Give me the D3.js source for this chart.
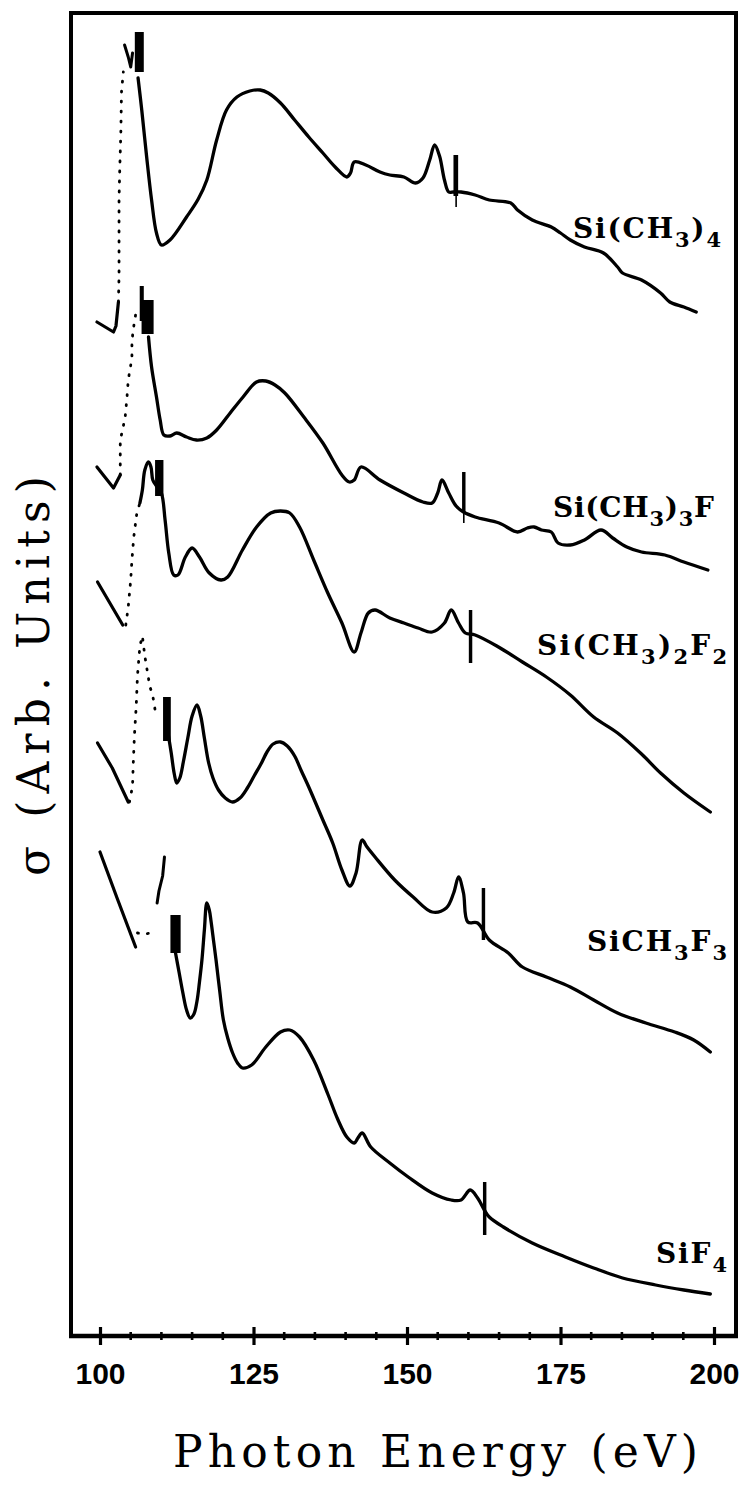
<!DOCTYPE html>
<html>
<head>
<meta charset="utf-8">
<script src="https://cdn.jsdelivr.net/npm/d3@7"></script>
<style>
  html, body { margin: 0; padding: 0; background: #fff; }
  svg { display: block; }
</style>
</head>
<body>
<svg id="chart" width="743" height="1485"></svg>
<script>
// ---- axis ticks ----
const energyTicks = [100, 125, 150, 175, 200];
const minorTicks = [105, 110, 115, 120, 130, 135, 140, 145, 155, 160, 165, 170, 180, 185, 190, 195];

// ---- Si(CH3)4 ----  [photon energy (eV), cross section (arb.)]
const tmsPre = [[99.5, 101.4], [102.2, 100.4], [102.6, 101.0], [103.0, 103.4]];
const tmsEdge = [[103.0, 103.4], [103.1, 106.0], [103.1, 110.0], [103.1, 113.6], [103.2, 116.3], [103.4, 120.5], [103.5, 124.4], [103.8, 126.4]];
const tmsNoise = [[104.0, 129.1], [104.6, 127.9], [105.0, 126.9], [105.3, 128.3]];
const tmsMain = [[106.2, 125.8], [106.8, 122.6], [107.6, 117.9], [108.4, 113.6], [109.2, 110.3], [110.0, 109.1], [111.4, 109.6], [114.1, 111.9], [116.0, 113.7], [117.4, 115.6], [119.0, 119.6], [120.6, 122.6], [122.3, 123.9], [124.4, 124.5], [126.1, 124.6], [127.4, 124.3], [129.4, 123.3], [131.7, 121.6], [134.0, 119.9], [136.3, 118.3], [138.3, 116.9], [140.2, 115.9], [140.8, 116.3], [141.4, 117.4], [143.3, 117.1], [145.6, 116.4], [147.2, 116.1], [149.5, 115.9], [151.4, 115.3], [152.6, 115.8], [153.7, 117.6], [154.5, 119.1], [155.3, 118.0], [156.1, 115.6], [156.8, 114.4], [157.6, 114.4], [158.8, 114.4], [161.1, 114.1], [163.4, 113.6], [166.9, 113.3], [168.0, 112.6], [170.4, 111.6], [173.5, 110.9], [175.0, 110.3], [176.6, 109.6], [178.9, 108.9], [182.0, 108.3], [184.3, 106.9], [185.1, 106.3], [188.2, 105.6], [191.3, 104.3], [192.8, 103.4], [195.1, 102.9], [197.1, 102.4]];
const tmsBands = [[105.8, 107.0, 126.4, 130.4], [157.7, 158.2, 114.0, 118.1], [158.0, 158.0, 112.9, 114.0]];

// ---- Si(CH3)3F ----
const tm3fPre = [[99.5, 86.9], [102.2, 84.8], [103.3, 86.1]];
const tm3fEdge = [[103.3, 86.1], [103.3, 88.0], [103.3, 89.6], [103.6, 90.4], [104.1, 91.9], [104.4, 93.9], [104.6, 95.6], [105.2, 97.8], [105.2, 99.4], [105.4, 100.6], [105.9, 102.5]];
const tm3fNoise = [];
const tm3fMain = [[107.9, 99.9], [108.4, 96.9], [109.2, 93.9], [109.8, 91.6], [110.4, 90.1], [111.4, 90.0], [112.5, 90.3], [114.1, 89.9], [115.7, 89.6], [117.4, 89.8], [119.0, 90.6], [121.2, 92.3], [123.3, 93.9], [125.5, 95.4], [127.0, 95.5], [128.5, 95.1], [130.1, 94.3], [133.2, 91.9], [136.3, 89.3], [139.4, 86.1], [140.6, 85.4], [141.4, 85.6], [142.5, 86.9], [145.6, 85.6], [149.5, 84.3], [152.6, 83.4], [154.1, 83.3], [155.0, 84.3], [155.7, 85.6], [156.8, 84.3], [158.0, 83.0], [159.2, 82.4], [161.1, 81.9], [165.0, 81.3], [168.0, 80.4], [169.6, 80.8], [170.7, 80.9], [171.9, 80.6], [173.5, 80.4], [174.6, 79.3], [176.6, 79.1], [178.9, 79.6], [181.6, 80.6], [183.5, 79.8], [185.8, 78.9], [188.2, 78.4], [192.0, 78.1], [195.1, 77.4], [199.0, 76.6]];
const tm3fBands = [[106.6, 107.0, 101.5, 105.0], [106.9, 108.6, 100.2, 103.6], [159.1, 159.4, 82.3, 86.4], [159.25, 159.25, 81.3, 82.3]];

// ---- Si(CH3)2F2 ----
const dm2fPre = [[99.6, 75.4], [103.7, 71.1]];
const dm2fEdge = [[104.2, 71.1], [104.6, 72.9], [105.0, 75.6], [105.2, 77.6], [105.5, 79.9], [106.0, 82.3], [106.5, 83.3]];
const dm2fNoise = [];
const dm2fMain = [[106.5, 83.3], [106.9, 84.6], [107.3, 86.6], [107.9, 87.4], [108.3, 86.9], [108.6, 85.6], [109.2, 85.0], [110.0, 84.3], [110.6, 81.6], [111.2, 78.3], [112.0, 76.1], [112.7, 76.1], [113.9, 77.9], [115.0, 78.8], [116.2, 77.9], [117.8, 76.3], [119.7, 75.6], [120.8, 75.9], [123.2, 78.6], [125.5, 80.9], [127.8, 82.3], [129.4, 82.5], [130.9, 82.3], [132.5, 80.9], [134.8, 77.6], [137.1, 74.3], [139.4, 71.3], [141.4, 68.4], [142.5, 70.3], [143.7, 72.3], [144.8, 72.6], [147.2, 71.8], [149.5, 71.3], [151.8, 70.8], [154.1, 70.4], [156.1, 71.3], [157.2, 72.6], [158.4, 71.3], [159.5, 70.3], [161.1, 70.1], [164.9, 68.9], [168.8, 67.4], [172.7, 65.9], [176.6, 64.1], [180.4, 61.9], [184.3, 60.3], [188.2, 58.2], [191.3, 56.3], [195.1, 54.3], [199.4, 52.4]];
const dm2fBands = [[109.1, 110.2, 84.0, 87.6], [160.2, 160.5, 67.3, 72.6]];

// ---- SiCH3F3 ----
const m3fPre = [[99.6, 59.3], [102.0, 56.8], [104.6, 53.4]];
const m3fEdge = [[104.8, 53.4], [105.3, 55.0], [105.4, 57.0], [105.6, 60.0], [105.9, 63.0], [106.1, 66.0], [106.5, 69.0], [106.9, 70.0], [107.3, 68.0], [107.7, 66.5], [108.1, 65.0], [108.6, 64.0], [109.0, 62.5], [109.6, 62.0]];
const m3fNoise = [];
const m3fMain = [[111.0, 60.6], [111.6, 58.3], [112.1, 56.2], [112.5, 55.3], [113.0, 55.8], [113.6, 57.5], [114.3, 59.8], [115.0, 62.0], [115.8, 63.1], [116.4, 62.0], [117.0, 59.8], [117.7, 57.3], [118.4, 55.8], [119.3, 54.6], [120.4, 53.8], [121.6, 53.4], [122.8, 53.8], [124.0, 54.8], [125.1, 56.0], [126.3, 57.3], [127.2, 58.4], [128.2, 59.2], [129.4, 59.4], [130.5, 59.0], [131.7, 58.0], [132.8, 56.5], [134.0, 54.9], [136.3, 51.6], [137.9, 49.3], [139.4, 46.6], [140.7, 45.0], [141.7, 46.3], [142.7, 49.6], [143.5, 48.9], [144.8, 47.9], [148.0, 45.6], [151.0, 43.9], [154.1, 42.4], [156.4, 42.8], [157.6, 44.3], [158.4, 45.9], [159.2, 44.3], [159.9, 41.4], [161.5, 41.3], [163.4, 39.6], [166.5, 38.3], [168.8, 36.9], [172.7, 35.9], [176.6, 34.9], [180.4, 33.6], [184.3, 32.3], [188.9, 31.3], [193.6, 30.4], [196.7, 29.6], [199.4, 28.4]];
const m3fBands = [[110.4, 111.4, 59.5, 63.9], [162.3, 162.6, 39.6, 44.8]];

// ---- SiF4 ----
const sif4Pre = [[100.0, 48.4], [102.9, 43.6], [105.8, 38.9]];
const sif4Edge = [[106.1, 40.3], [107.0, 40.2], [108.5, 40.3]];
const sif4Noise = [[110.5, 47.9], [110.2, 46.0], [109.6, 44.5], [109.3, 43.3]];
const sif4Main = [[112.3, 38.3], [112.9, 36.3], [113.5, 34.3], [114.1, 32.6], [114.7, 31.8], [115.3, 32.2], [115.8, 33.5], [116.2, 35.4], [116.6, 37.6], [117.0, 40.6], [117.4, 43.3], [117.8, 42.6], [118.1, 41.4], [118.5, 39.5], [118.9, 37.6], [119.5, 34.5], [120.1, 31.6], [120.8, 29.8], [121.6, 28.3], [122.4, 27.3], [123.2, 26.8], [124.7, 27.1], [127.0, 28.9], [129.4, 30.4], [130.9, 30.6], [132.5, 29.9], [134.8, 27.6], [137.1, 24.2], [138.7, 21.7], [140.2, 19.9], [141.4, 19.3], [142.0, 19.8], [142.7, 20.3], [144.1, 18.9], [147.2, 17.3], [150.2, 15.9], [154.1, 14.3], [157.2, 13.6], [158.8, 13.6], [160.3, 14.6], [161.5, 13.8], [162.6, 12.6], [163.4, 11.9], [165.7, 10.9], [170.4, 9.3], [175.8, 7.9], [180.4, 6.8], [185.1, 5.8], [190.5, 5.1], [195.1, 4.6], [199.4, 4.2]];
const sif4Bands = [[111.6, 113.0, 38.3, 42.1], [162.5, 162.8, 10.1, 15.4]];

// ---- curve labels: [text, subscript?] ----
const tmsLabel = [["Si(CH", 0], ["3", 1], [")", 0], ["4", 1]];
const tm3fLabel = [["Si(CH", 0], ["3", 1], [")", 0], ["3", 1], ["F", 0]];
const dm2fLabel = [["Si(CH", 0], ["3", 1], [")", 0], ["2", 1], ["F", 0], ["2", 1]];
const m3fLabel = [["SiCH", 0], ["3", 1], ["F", 0], ["3", 1]];
const sif4Label = [["SiF", 0], ["4", 1]];

// table assembled from the arrays above
const series = [
  { pre: tmsPre, edge: tmsEdge, noise: tmsNoise, main: tmsMain, bands: tmsBands, label: tmsLabel },
  { pre: tm3fPre, edge: tm3fEdge, noise: tm3fNoise, main: tm3fMain, bands: tm3fBands, label: tm3fLabel },
  { pre: dm2fPre, edge: dm2fEdge, noise: dm2fNoise, main: dm2fMain, bands: dm2fBands, label: dm2fLabel },
  { pre: m3fPre, edge: m3fEdge, noise: m3fNoise, main: m3fMain, bands: m3fBands, label: m3fLabel },
  { pre: sif4Pre, edge: sif4Edge, noise: sif4Noise, main: sif4Main, bands: sif4Bands, label: sif4Label }
];

// label placement (left edge, baseline, total width) in px
const labelLayout = [
  { x: 573, y: 238, w: 148 },
  { x: 553, y: 517, w: 161 },
  { x: 537, y: 655, w: 190 },
  { x: 587, y: 951, w: 140 },
  { x: 656, y: 1263, w: 71 }
];

// ---- drawing ----
const svg = d3.select("#chart");
const frame = { left: 71, right: 736, top: 13, bottom: 1336 };

const x = d3.scaleLinear().domain([100, 200]).range([100, 714]);
const y = d3.scaleLinear().domain([0, 132.3]).range([frame.bottom, frame.top]);

const smooth = d3.line().x(d => x(d[0])).y(d => y(d[1])).curve(d3.curveCatmullRom.alpha(0.5));
const straight = d3.line().x(d => x(d[0])).y(d => y(d[1]));

// plot frame (left, top, right)
svg.append("path")
  .attr("d", `M${frame.left},${frame.bottom} V${frame.top} H${frame.right} V${frame.bottom}`)
  .attr("fill", "none").attr("stroke", "#000").attr("stroke-width", 4)
  .attr("stroke-linejoin", "miter");

// bottom axis
const axis = d3.axisBottom(x).tickValues(energyTicks).tickSize(9).tickPadding(18).tickFormat(d3.format("d"));
const gx = svg.append("g").attr("transform", `translate(0,${frame.bottom})`).call(axis);
gx.select(".domain").remove();
gx.append("line").attr("x1", frame.left - 2).attr("x2", frame.right + 2)
  .attr("stroke", "#000").attr("stroke-width", 4.5);
gx.selectAll(".tick line").attr("y1", -9).attr("y2", 9).attr("stroke", "#000").attr("stroke-width", 3.2);
gx.selectAll(".tick text")
  .attr("fill", "#000")
  .style("font-family", "'Liberation Sans', Arial, sans-serif")
  .style("font-weight", "bold")
  .style("font-size", "30px");
gx.selectAll(".minor").data(minorTicks).enter().append("line")
  .attr("class", "minor")
  .attr("x1", d => x(d)).attr("x2", d => x(d))
  .attr("y1", -4).attr("y2", 4)
  .attr("stroke", "#000").attr("stroke-width", 2.6);

// axis titles
const titleFont = "'DejaVu Serif', 'Liberation Serif', serif";
svg.append("text")
  .attr("x", 173).attr("y", 1467)
  .attr("textLength", 525).attr("lengthAdjust", "spacing")
  .style("font-family", titleFont).style("font-size", "44px")
  .text("Photon Energy (eV)");

svg.append("text")
  .attr("transform", "translate(49,876) rotate(-90)")
  .attr("x", 0).attr("y", 0)
  .attr("textLength", 400).attr("lengthAdjust", "spacing")
  .style("font-family", titleFont).style("font-size", "44px")
  .text("σ (Arb. Units)");

// spectra
const curves = svg.append("g").attr("fill", "none").attr("stroke", "#000")
  .attr("stroke-linecap", "round").attr("stroke-linejoin", "round");

series.forEach((s, i) => {
  const g = curves.append("g");
  g.append("path").attr("d", straight(s.pre)).attr("stroke-width", 3.2);
  g.append("path").attr("d", straight(s.edge)).attr("stroke-width", 2.8)
    .attr("stroke-dasharray", "1 9");
  if (s.noise.length) g.append("path").attr("d", straight(s.noise)).attr("stroke-width", 3);
  g.append("path").attr("d", smooth(s.main)).attr("stroke-width", 3.3);
  g.selectAll("rect").data(s.bands).enter().append("rect")
    .attr("x", d => x(d[0]) - 0.8)
    .attr("width", d => Math.max(1.6, x(d[1]) - x(d[0]) + 1.6))
    .attr("y", d => y(d[3]))
    .attr("height", d => y(d[2]) - y(d[3]))
    .attr("fill", "#000").attr("stroke", "none");

  const L = labelLayout[i];
  const t = svg.append("text")
    .attr("x", L.x).attr("y", L.y)
    .attr("textLength", L.w).attr("lengthAdjust", "spacing")
    .style("font-family", titleFont).style("font-weight", "bold").style("font-size", "28px");
  let shifted = false;
  s.label.forEach(([txt, sub]) => {
    const ts = t.append("tspan").text(txt);
    if (sub && !shifted) { ts.attr("dy", 9).style("font-size", "21px"); shifted = true; }
    else if (sub) { ts.style("font-size", "21px"); }
    else if (!sub && shifted) { ts.attr("dy", -9); shifted = false; }
  });
});
</script>
</body>
</html>
